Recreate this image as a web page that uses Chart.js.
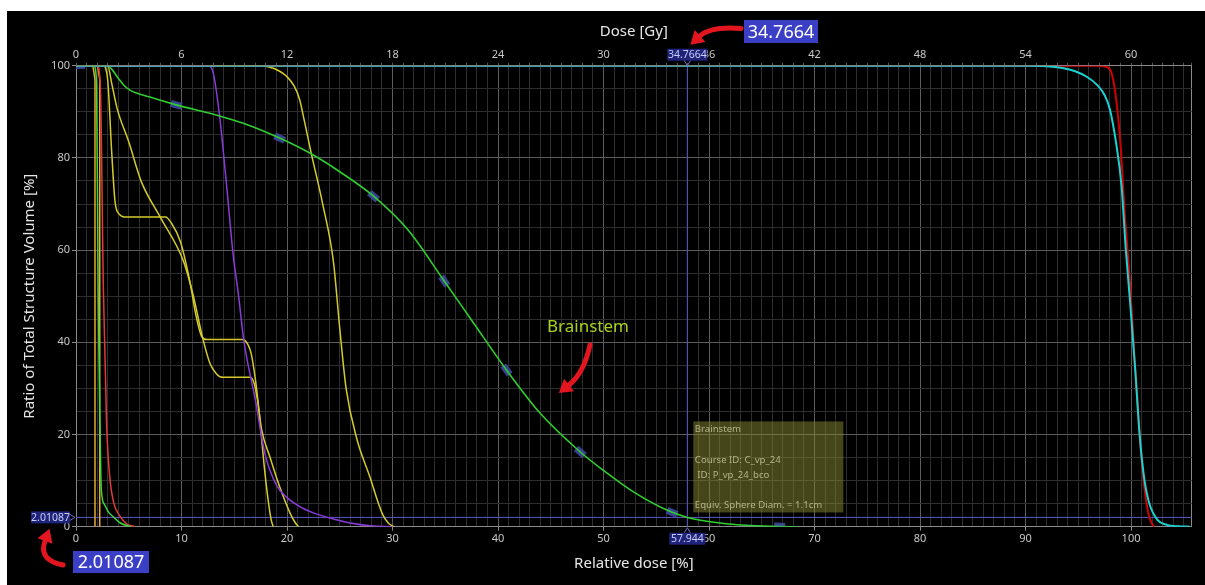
<!DOCTYPE html>
<html>
<head>
<meta charset="utf-8">
<title>DVH</title>
<script src="https://cdn.jsdelivr.net/npm/chart.js@4.4.1/dist/chart.umd.min.js"></script>
<style>
  html, body { margin: 0; background: #fff; }
  #wrap { position: absolute; left: 7px; top: 11px; width: 1198px; height: 574px; background: #000; }
</style>
</head>
<body>
<div id="wrap"><canvas id="dvh" width="1198" height="574"></canvas></div>
<script>
/* =========================
   AXES
========================= */
const RX_DOSE = 60;      // Gy that equals 100 % relative dose
const REL_MAX = 105.75;  // right end of the relative dose axis

const relTicks = [0, 10, 20, 30, 40, 50, 60, 70, 80, 90, 100];
const doseTicks = [0, 6, 12, 18, 24, 30, 36, 42, 48, 54, 60];
const volTicks = [0, 20, 40, 60, 80, 100];

/* =========================
   DVH CURVES  [relative dose %, volume %]
========================= */
const ptvCyan = [[0,100],[90,100],[92.0,99.9],[93.5,99.5],[94.7,98.8],[95.8,97.6],[96.8,95.8],[97.5,93.6],[98.0,90.5],[98.6,83.0],[99.1,73.9],[99.5,60.3],[99.9,49.0],[100.4,34.0],[100.8,20.4],[101.2,11.3],[101.7,5.3],[102.5,1.5],[103.4,0.4],[104.5,0.08],[105.6,0]];
const ptvRed = [[0,100],[97.0,100],[97.5,99.8],[98.0,99.2],[98.5,94.3],[99.0,83.0],[99.4,67.9],[99.9,52.8],[100.4,34.0],[100.8,20.4],[101.2,9.8],[101.7,2.3],[102.0,0.6],[102.2,0]];
const brainstem = [[0,100],[3.0,100],[3.4,99.2],[4.0,97.3],[4.6,95.6],[5.2,94.6],[7.0,93.2],[9.5,91.5],[13.6,89.1],[16.5,87.0],[19.3,84.3],[22.2,81.0],[25.0,77.0],[28.2,71.7],[31.5,64.3],[34.9,53.3],[37.5,44.8],[40.8,34.0],[44.0,24.6],[47.8,16.2],[50.0,12.2],[52.8,7.6],[56.0,3.6],[57.944,2.01087],[60.7,0.9],[63.9,0.25],[68.3,0]];
const brainstemMarks = [[0.3,100],[9.5,91.5],[19.3,84.3],[28.2,71.7],[34.9,53.3],[40.8,34.0],[47.8,16.2],[56.5,3.1],[66.7,0.1]];
const purple = [[0,100],[12.5,100],[13.0,98.5],[13.6,89.3],[14.3,73.4],[14.9,58.9],[15.4,50.3],[15.9,40.5],[17.0,27.5],[17.9,15.9],[19.0,9.0],[20.0,6.3],[21.5,4.0],[22.5,3.0],[24.7,1.5],[26.0,0.8],[27.9,0.2],[30.0,0]];
const yellowA = [[0,100],[2.6,100],[3.0,97],[3.4,80.6],[3.7,70.5],[4.1,67.8],[4.6,67.2],[8.5,67.2],[9.0,66],[9.9,61.8],[10.8,53.1],[11.4,45.5],[11.9,41.3],[12.4,40.6],[15.8,40.6],[16.3,39.5],[16.6,37.6],[17.0,32.0],[17.4,24.0],[17.8,14.0],[18.2,6.0],[18.5,1.5],[18.7,0]];
const yellowB = [[0,100],[3.0,100],[3.4,96],[3.9,90.7],[5.0,83.5],[6.2,74.8],[8.0,67.1],[10.2,57.5],[11.1,50.3],[12.0,41.0],[12.7,35.4],[13.3,33.2],[13.9,32.4],[16.5,32.4],[16.9,31.0],[17.2,27.5],[17.6,21.0],[18.4,15.0],[19.3,8.7],[20.3,2.9],[20.8,0.8],[21.1,0]];
const yellowC = [[0,100],[17.3,100],[18.3,99.7],[19.3,98.8],[20.0,97.6],[20.7,95.5],[21.2,92.6],[21.6,88.5],[22.3,81.0],[23.4,69.8],[24.4,57.5],[25.0,43.0],[25.6,30.0],[26.6,19.2],[27.9,10.5],[28.6,5.5],[29.1,2.5],[29.6,0.8],[30.1,0]];
const greenLeft = [[0,100],[1.7,100],[1.95,96],[2.1,51],[2.25,25],[2.4,8],[2.7,4.8],[3.1,3.1],[3.5,2.2],[4.2,0.8],[5.2,0]];
const redLeft = [[0,100],[2.0,100],[2.3,96],[2.6,51],[2.9,22.4],[3.2,10.8],[3.6,5.0],[4.2,2.2],[4.8,0.6],[5.6,0]];
const orangeA = [[0,100],[1.6,100],[1.8,97],[1.8,0]];
const orangeB = [[0,100],[2.05,100],[2.25,97],[2.25,0]];

/* =========================
   CURSOR
========================= */
const cursorRel = 57.944;
const cursorVol = 2.01087;

const tipLines = ["Brainstem", "", "Course ID: C_vp_24", " ID: P_vp_24_bco", "", "Equiv. Sphere Diam. = 1.1cm"];

/* =========================
   STYLE
========================= */
const FONT = "'Noto Sans', 'Open Sans', sans-serif";
const TICK = "#c8c8c8";
const TITLE = "#e6e6e6";
const GRID_MAJOR = "#5c5c5c";
const GRID_MINOR = "#2e2e2e";
const EDGE = "#8a8a8a";
const ARROW = "#e3161f";

// minor grid: every 1 % of dose, every 5 % of volume
const relGrid = [];
for (let v = 0; v <= 105; v++) relGrid.push(v);
relGrid.push(REL_MAX);
const volGrid = [];
for (let v = 0; v <= 100; v += 5) volGrid.push(v);

const toXY = arr => arr.map(p => ({ x: p[0], y: p[1] }));
const fmt = (v, d) => String(parseFloat(v.toFixed(d)));

function curve(data, color, width, straight) {
  return {
    data: toXY(data),
    borderColor: color,
    borderWidth: width,
    pointRadius: 0,
    fill: false,
    cubicInterpolationMode: straight ? "default" : "monotone",
    tension: 0
  };
}

// volume of the brainstem curve at a given dose (linear between samples)
function brainstemAt(x) {
  for (let i = 1; i < brainstem.length; i++) {
    const a = brainstem[i - 1], b = brainstem[i];
    if (x <= b[0]) return a[1] + (b[1] - a[1]) * (x - a[0]) / (b[0] - a[0]);
  }
  return 0;
}

// little slate bar that sits along the brainstem line
const markImg = document.createElement("canvas");
markImg.width = 11;
markImg.height = 7;
(() => {
  const c = markImg.getContext("2d");
  c.fillStyle = "rgba(62,72,160,0.9)";
  c.fillRect(0, 0, 11, 7);
})();

function markRotation(ctx) {
  const chart = ctx.chart;
  const sx = chart.scales.x, sy = chart.scales.y;
  const p = ctx.raw;
  if (!p || !sx) return 0;
  const x0 = Math.max(0, p.x - 1), x1 = p.x + 1;
  const dx = sx.getPixelForValue(x1) - sx.getPixelForValue(x0);
  const dy = sy.getPixelForValue(brainstemAt(x1)) - sy.getPixelForValue(brainstemAt(x0));
  return Math.atan2(dy, dx) * 180 / Math.PI;
}

/* =========================
   OVERLAY: cursor tags, note box, callouts
========================= */
function tag(ctx, text, x, y, w, h) {
  ctx.fillStyle = "#1f237a";
  ctx.fillRect(x, y, w, h);
  ctx.fillStyle = "#c8cdf5";
  ctx.font = "10.5px " + FONT;
  ctx.textAlign = "center";
  ctx.textBaseline = "middle";
  ctx.fillText(text, x + w / 2, y + h / 2 + 0.5);
}

function bigTag(ctx, text, x, y, w, h) {
  ctx.fillStyle = "#3b3fc6";
  ctx.fillRect(x, y, w, h);
  ctx.fillStyle = "#ffffff";
  ctx.font = "18px " + FONT;
  ctx.textAlign = "center";
  ctx.textBaseline = "middle";
  ctx.fillText(text, x + w / 2, y + h / 2 + 1);
}

function arrow(ctx, p0, c, p1) {
  const dx = p1[0] - c[0], dy = p1[1] - c[1];
  const len = Math.hypot(dx, dy);
  const ux = dx / len, uy = dy / len;
  ctx.save();
  ctx.strokeStyle = ARROW;
  ctx.fillStyle = ARROW;
  ctx.lineWidth = 5;
  ctx.lineCap = "round";
  ctx.beginPath();
  ctx.moveTo(p0[0], p0[1]);
  ctx.quadraticCurveTo(c[0], c[1], p1[0], p1[1]);
  ctx.stroke();
  const hl = 13, hw = 8;
  ctx.beginPath();
  ctx.moveTo(p1[0] + ux * hl, p1[1] + uy * hl);
  ctx.lineTo(p1[0] - uy * hw, p1[1] + ux * hw);
  ctx.lineTo(p1[0] + uy * hw, p1[1] - ux * hw);
  ctx.closePath();
  ctx.fill();
  ctx.restore();
}

const overlay = {
  id: "overlay",
  afterDatasetsDraw(chart) {
    const { ctx, chartArea: a, scales: { x, y } } = chart;
    const cx = x.getPixelForValue(cursorRel);
    const cy = y.getPixelForValue(cursorVol);
    const doseText = fmt(cursorRel * RX_DOSE / 100, 4);
    const relText = fmt(cursorRel, 3);
    const volText = fmt(cursorVol, 5);

    ctx.save();

    // note box next to the cursor
    const bw = 150, bh = 91;
    const bx = cx + 6, by = cy - 5 - bh;
    ctx.fillStyle = "rgba(135,135,52,0.52)";
    ctx.fillRect(bx, by, bw, bh);
    ctx.fillStyle = "#b4b48c";
    ctx.font = "9.6px " + FONT;
    ctx.textAlign = "left";
    ctx.textBaseline = "alphabetic";
    tipLines.forEach((t, i) => ctx.fillText(t, bx + 1.5, by + 11 + i * 15.2));

    // cursor tags on the three axes
    ctx.strokeStyle = "#6a6ad0";
    ctx.lineWidth = 1;
    tag(ctx, doseText, cx - 20, a.top - 17, 40, 12);
    ctx.beginPath();
    ctx.moveTo(cx - 3, a.top - 5); ctx.lineTo(cx, a.top); ctx.lineTo(cx + 3, a.top - 5);
    ctx.stroke();

    tag(ctx, relText, cx - 18, a.bottom + 6, 36, 12);
    ctx.beginPath();
    ctx.moveTo(cx - 3, a.bottom + 6); ctx.lineTo(cx, a.bottom + 1); ctx.lineTo(cx + 3, a.bottom + 6);
    ctx.stroke();

    tag(ctx, volText, a.left - 45, cy - 6, 39, 12);
    ctx.beginPath();
    ctx.moveTo(a.left - 6, cy - 3); ctx.lineTo(a.left - 1, cy); ctx.lineTo(a.left - 6, cy + 3);
    ctx.stroke();

    // callouts
    bigTag(ctx, doseText, 737, 9, 74, 23);
    arrow(ctx, [734, 17.5], [704, 15], [693, 25]);

    bigTag(ctx, volText, 66, 540, 76, 22);
    arrow(ctx, [56, 554], [31, 549], [38, 530]);

    ctx.fillStyle = "#a9cf1f";
    ctx.font = "17px " + FONT;
    ctx.textAlign = "left";
    ctx.textBaseline = "alphabetic";
    ctx.fillText("Brainstem", 540, 321);
    arrow(ctx, [583, 334], [577, 362], [562, 374]);

    ctx.restore();
  }
};

/* =========================
   CHART
========================= */
const datasets = [
  curve(ptvCyan, "#19d3d3", 2),
  curve(ptvRed, "#d20000", 2),
  curve(brainstem, "#2fcf2f", 1.6),
  {
    data: toXY(brainstemMarks),
    showLine: false,
    pointStyle: markImg,
    pointRadius: 5,
    rotation: markRotation
  },
  curve(purple, "#8a3adb", 1.5),
  curve(yellowC, "#d4cb2a", 1.5),
  curve(yellowA, "#d4cb2a", 1.5),
  curve(yellowB, "#d4cb2a", 1.5),
  curve(greenLeft, "#3ad83a", 1.5),
  curve(redLeft, "#e03a3a", 1.5),
  curve(orangeB, "#e6aa2c", 1.5, true),
  curve(orangeA, "#e6aa2c", 1.5, true),
  curve([[cursorRel, 0], [cursorRel, 100]], "#5a5ac4", 1, true),
  curve([[0, cursorVol], [REL_MAX, cursorVol]], "#5a5ac4", 1, true)
];

function gridColor(v, majors, edge) {
  if (v === edge) return EDGE;
  return majors.includes(v) ? GRID_MAJOR : GRID_MINOR;
}

new Chart(document.getElementById("dvh"), {
  type: "line",
  data: { datasets },
  plugins: [overlay],
  options: {
    responsive: false,
    animation: false,
    events: [],
    layout: { padding: { left: 0, top: 0, right: 13.3, bottom: 0 } },
    plugins: {
      legend: { display: false },
      tooltip: { enabled: false }
    },
    scales: {
      x: {
        type: "linear",
        position: "bottom",
        min: 0,
        max: REL_MAX,
        afterBuildTicks: s => { s.ticks = relGrid.map(v => ({ value: v })); },
        afterFit: s => { s.height = 58.3; },
        ticks: {
          autoSkip: false,
          maxRotation: 0,
          color: TICK,
          padding: 2,
          font: { family: FONT, size: 11 },
          callback: v => relTicks.includes(v) ? String(v) : ""
        },
        grid: {
          color: c => gridColor(c.tick && c.tick.value, relTicks, REL_MAX),
          tickLength: 4,
          tickColor: c => (c.tick && relTicks.includes(c.tick.value)) ? EDGE : "transparent"
        },
        border: { color: EDGE },
        title: {
          display: true,
          text: "Relative dose [%]",
          color: TITLE,
          font: { family: FONT, size: 15 },
          padding: { top: 0, bottom: 12 }
        }
      },
      x2: {
        type: "linear",
        position: "top",
        display: true,
        min: 0,
        max: REL_MAX * RX_DOSE / 100,
        afterBuildTicks: s => { s.ticks = relGrid.map(v => ({ value: v * RX_DOSE / 100 })); },
        afterFit: s => { s.height = 54.7; },
        ticks: {
          autoSkip: false,
          maxRotation: 0,
          color: TICK,
          padding: 1,
          font: { family: FONT, size: 11 },
          callback: v => {
            const d = Math.round(v * 10) / 10;
            return doseTicks.includes(d) ? String(d) : "";
          }
        },
        grid: { drawOnChartArea: false, tickLength: 3, color: "#555" },
        border: { color: EDGE },
        title: {
          display: true,
          text: "Dose [Gy]",
          color: TITLE,
          font: { family: FONT, size: 15 },
          padding: { top: 12, bottom: 0 }
        }
      },
      y: {
        type: "linear",
        min: 0,
        max: 100,
        afterBuildTicks: s => { s.ticks = volGrid.map(v => ({ value: v })); },
        afterFit: s => { s.width = 69; },
        ticks: {
          autoSkip: false,
          color: TICK,
          padding: 2,
          font: { family: FONT, size: 11 },
          callback: v => volTicks.includes(v) ? String(v) : ""
        },
        grid: {
          color: c => gridColor(c.tick && c.tick.value, volTicks, null),
          tickLength: 4,
          tickColor: c => (c.tick && volTicks.includes(c.tick.value)) ? EDGE : "transparent"
        },
        border: { color: EDGE },
        title: {
          display: true,
          text: "Ratio of Total Structure Volume [%]",
          color: TITLE,
          font: { family: FONT, size: 15 },
          padding: { top: 14, bottom: 0 }
        }
      }
    }
  }
});
</script>
</body>
</html>
